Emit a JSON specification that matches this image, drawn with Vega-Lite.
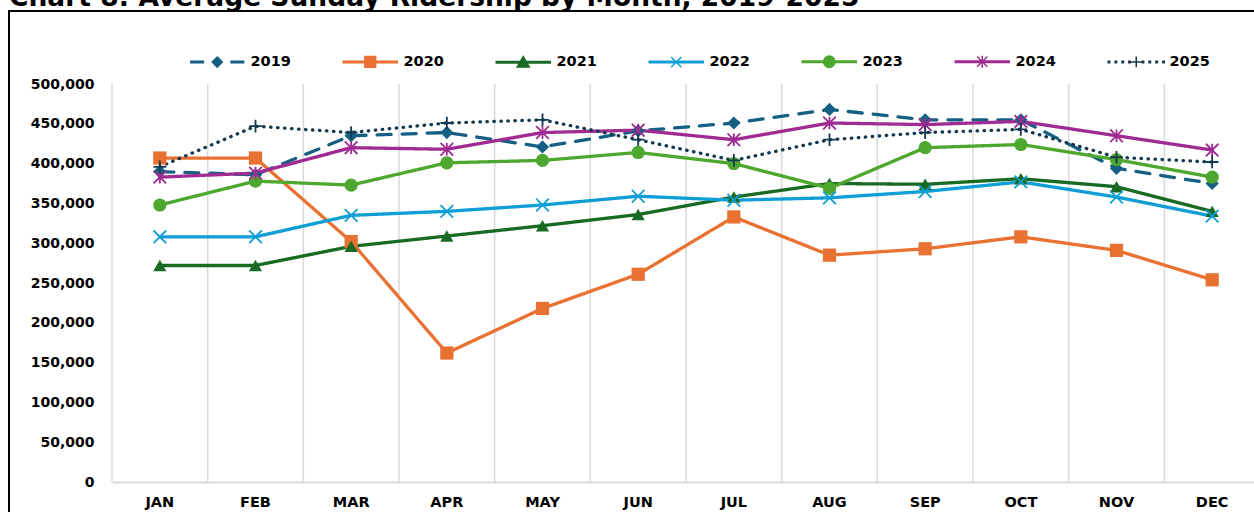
{
  "$schema": "https://vega.github.io/schema/vega-lite/v6.json",
  "autosize": {"type": "none"},
  "padding": {"left": 9, "top": 11, "right": -7, "bottom": -5},
  "width": 1252,
  "height": 506,
  "background": "white",
  "title": {
    "text": "Chart 8: Average Sunday Ridership by Month, 2019-2025",
    "anchor": "start",
    "frame": "group",
    "font": "DejaVu Sans",
    "fontSize": 26.5,
    "fontWeight": "bold",
    "color": "#000000",
    "baseline": "alphabetic",
    "offset": -21.5
  },
  "config": {
    "view": {"stroke": "#000000", "strokeWidth": 2},
    "axis": {"labelFont": "DejaVu Sans", "labelFontWeight": "bold", "labelColor": "#000000", "title": null}
  },
  "datasets": {
    "months": [
      {"month": "JAN"}, {"month": "FEB"}, {"month": "MAR"}, {"month": "APR"}, {"month": "MAY"}, {"month": "JUN"},
      {"month": "JUL"}, {"month": "AUG"}, {"month": "SEP"}, {"month": "OCT"}, {"month": "NOV"}, {"month": "DEC"}
    ],
    "ridership": [
      {"year": "2019", "month": "JAN", "riders": 390000},
      {"year": "2019", "month": "FEB", "riders": 386000},
      {"year": "2019", "month": "MAR", "riders": 435000},
      {"year": "2019", "month": "APR", "riders": 439000},
      {"year": "2019", "month": "MAY", "riders": 421000},
      {"year": "2019", "month": "JUN", "riders": 441000},
      {"year": "2019", "month": "JUL", "riders": 451000},
      {"year": "2019", "month": "AUG", "riders": 468000},
      {"year": "2019", "month": "SEP", "riders": 455000},
      {"year": "2019", "month": "OCT", "riders": 455000},
      {"year": "2019", "month": "NOV", "riders": 394000},
      {"year": "2019", "month": "DEC", "riders": 375000},
      {"year": "2020", "month": "JAN", "riders": 407000},
      {"year": "2020", "month": "FEB", "riders": 407000},
      {"year": "2020", "month": "MAR", "riders": 302000},
      {"year": "2020", "month": "APR", "riders": 162000},
      {"year": "2020", "month": "MAY", "riders": 218000},
      {"year": "2020", "month": "JUN", "riders": 261000},
      {"year": "2020", "month": "JUL", "riders": 333000},
      {"year": "2020", "month": "AUG", "riders": 285000},
      {"year": "2020", "month": "SEP", "riders": 293000},
      {"year": "2020", "month": "OCT", "riders": 308000},
      {"year": "2020", "month": "NOV", "riders": 291000},
      {"year": "2020", "month": "DEC", "riders": 254000},
      {"year": "2021", "month": "JAN", "riders": 272000},
      {"year": "2021", "month": "FEB", "riders": 272000},
      {"year": "2021", "month": "MAR", "riders": 296000},
      {"year": "2021", "month": "APR", "riders": 309000},
      {"year": "2021", "month": "MAY", "riders": 322000},
      {"year": "2021", "month": "JUN", "riders": 336000},
      {"year": "2021", "month": "JUL", "riders": 358000},
      {"year": "2021", "month": "AUG", "riders": 375000},
      {"year": "2021", "month": "SEP", "riders": 374000},
      {"year": "2021", "month": "OCT", "riders": 381000},
      {"year": "2021", "month": "NOV", "riders": 371000},
      {"year": "2021", "month": "DEC", "riders": 340000},
      {"year": "2022", "month": "JAN", "riders": 308000},
      {"year": "2022", "month": "FEB", "riders": 308000},
      {"year": "2022", "month": "MAR", "riders": 335000},
      {"year": "2022", "month": "APR", "riders": 340000},
      {"year": "2022", "month": "MAY", "riders": 348000},
      {"year": "2022", "month": "JUN", "riders": 359000},
      {"year": "2022", "month": "JUL", "riders": 354000},
      {"year": "2022", "month": "AUG", "riders": 357000},
      {"year": "2022", "month": "SEP", "riders": 365000},
      {"year": "2022", "month": "OCT", "riders": 377000},
      {"year": "2022", "month": "NOV", "riders": 358000},
      {"year": "2022", "month": "DEC", "riders": 334000},
      {"year": "2023", "month": "JAN", "riders": 348000},
      {"year": "2023", "month": "FEB", "riders": 378000},
      {"year": "2023", "month": "MAR", "riders": 373000},
      {"year": "2023", "month": "APR", "riders": 401000},
      {"year": "2023", "month": "MAY", "riders": 404000},
      {"year": "2023", "month": "JUN", "riders": 414000},
      {"year": "2023", "month": "JUL", "riders": 400000},
      {"year": "2023", "month": "AUG", "riders": 369000},
      {"year": "2023", "month": "SEP", "riders": 420000},
      {"year": "2023", "month": "OCT", "riders": 424000},
      {"year": "2023", "month": "NOV", "riders": 405000},
      {"year": "2023", "month": "DEC", "riders": 383000},
      {"year": "2024", "month": "JAN", "riders": 383000},
      {"year": "2024", "month": "FEB", "riders": 388000},
      {"year": "2024", "month": "MAR", "riders": 420000},
      {"year": "2024", "month": "APR", "riders": 418000},
      {"year": "2024", "month": "MAY", "riders": 439000},
      {"year": "2024", "month": "JUN", "riders": 442000},
      {"year": "2024", "month": "JUL", "riders": 430000},
      {"year": "2024", "month": "AUG", "riders": 451000},
      {"year": "2024", "month": "SEP", "riders": 449000},
      {"year": "2024", "month": "OCT", "riders": 453000},
      {"year": "2024", "month": "NOV", "riders": 435000},
      {"year": "2024", "month": "DEC", "riders": 417000},
      {"year": "2025", "month": "JAN", "riders": 396000},
      {"year": "2025", "month": "FEB", "riders": 447000},
      {"year": "2025", "month": "MAR", "riders": 439000},
      {"year": "2025", "month": "APR", "riders": 451000},
      {"year": "2025", "month": "MAY", "riders": 455000},
      {"year": "2025", "month": "JUN", "riders": 430000},
      {"year": "2025", "month": "JUL", "riders": 404000},
      {"year": "2025", "month": "AUG", "riders": 430000},
      {"year": "2025", "month": "SEP", "riders": 439000},
      {"year": "2025", "month": "OCT", "riders": 443000},
      {"year": "2025", "month": "NOV", "riders": 408000},
      {"year": "2025", "month": "DEC", "riders": 402000}
    ]
  },
  "layer": [
    {
      "data": {"name": "months"},
      "mark": {"type": "rule", "color": "#d9d9d9", "strokeWidth": 1.5},
      "encoding": {
        "x": {
          "field": "month", "type": "ordinal", "bandPosition": 0,
          "scale": {"type": "band", "domain": ["JAN","FEB","MAR","APR","MAY","JUN","JUL","AUG","SEP","OCT","NOV","DEC"], "range": [103, 1251], "paddingInner": 0, "paddingOuter": 0},
          "axis": {"orient": "bottom", "offset": -35, "ticks": false, "domain": true, "domainColor": "#d9d9d9", "domainWidth": 2, "grid": false, "labelFontSize": 14.5, "labelPadding": 13, "labelAngle": 0, "bandPosition": 0.5, "title": null}
        },
        "y": {
          "datum": 0, "type": "quantitative",
          "scale": {"domain": [0, 500000], "range": [471, 73], "nice": false, "zero": false},
          "axis": {"orient": "left", "offset": -103, "ticks": false, "domain": false, "grid": false, "labelFontSize": 14, "labelPadding": 18, "values": [0,50000,100000,150000,200000,250000,300000,350000,400000,450000,500000], "format": ",d", "title": null}
        },
        "y2": {"datum": 500000}
      }
    },
    {
      "data": {"name": "ridership"},
      "mark": {"type": "line", "strokeWidth": 3.3, "strokeCap": "round"},
      "encoding": {
        "x": {"field": "month", "type": "ordinal"},
        "y": {"field": "riders", "type": "quantitative"},
        "color": {
          "field": "year", "type": "nominal",
          "scale": {"domain": ["2019","2020","2021","2022","2023","2024","2025"], "range": ["#156082","#E97132","#196B24","#0F9ED5","#4EA72E","#A02B93","#14384F"]},
          "legend": {
            "orient": "none", "legendX": 201, "legendY": 43, "direction": "horizontal", "columns": 7, "title": null, "padding": 0,
            "labelFont": "DejaVu Sans", "labelFontSize": 14.5, "labelFontWeight": "bold", "labelColor": "#000000",
            "symbolSize": 144, "symbolStrokeWidth": 1.5, "symbolOpacity": 1, "labelOffset": 26, "columnPadding": 49,
            "symbolFillColor": {"expr": "scale('color', datum.value)"},
            "symbolStrokeColor": {"expr": "scale('color', datum.value)"},
            "symbolType": {"expr": "datum.value === '2019' ? 'M-4.4,-0.125H-2.3V0.125H-4.4ZM2.3,-0.125H4.4V0.125H2.3ZM-0.85,0L0,-0.85L0.85,0L0,0.85Z' : datum.value === '2020' ? 'M-4.5,-0.125H4.5V0.125H-4.5ZM-0.9,-0.9H0.9V0.9H-0.9Z' : datum.value === '2021' ? 'M-4.5,-0.125H4.5V0.125H-4.5ZM0,-0.95L1,0.8H-1Z' : datum.value === '2022' ? 'M-4.5,-0.125H4.5V0.125H-4.5ZM-0.85,-0.85L0.85,0.85M-0.85,0.85L0.85,-0.85' : datum.value === '2023' ? 'M-4.5,-0.125H4.5V0.125H-4.5ZM-0.95,0A0.95,0.95,0,1,0,0.95,0A0.95,0.95,0,1,0,-0.95,0Z' : datum.value === '2024' ? 'M-4.5,-0.125H4.5V0.125H-4.5ZM-0.85,-0.85L0.85,0.85M-0.85,0.85L0.85,-0.85M0,-1V1' : 'M-4.67,-0.12h0.24v0.24h-0.24ZM-3.52,-0.12h0.24v0.24h-0.24ZM-2.37,-0.12h0.24v0.24h-0.24ZM-1.24,-0.12h0.24v0.24h-0.24ZM1,-0.12h0.24v0.24h-0.24ZM2.13,-0.12h0.24v0.24h-0.24ZM3.28,-0.12h0.24v0.24h-0.24ZM4.43,-0.12h0.24v0.24h-0.24ZM-0.9,0H0.9M0,-0.9V0.9'"}
          }
        },
        "strokeDash": {
          "field": "year", "type": "nominal", "legend": null,
          "scale": {"domain": ["2025","2024","2023","2022","2021","2020","2019"], "range": [[0.5, 6.5], [1, 0], [1, 0], [1, 0], [1, 0], [1, 0], [14, 11]]}
        }
      }
    },
    {
      "data": {"name": "ridership"},
      "transform": [{"filter": {"field": "year", "oneOf": ["2019", "2020", "2021", "2023"]}}],
      "mark": {"type": "point", "filled": true, "opacity": 1, "size": 175},
      "encoding": {
        "x": {"field": "month", "type": "ordinal"},
        "y": {"field": "riders", "type": "quantitative"},
        "color": {"field": "year", "type": "nominal", "legend": null},
        "shape": {
          "field": "year", "type": "nominal", "legend": null,
          "scale": {"domain": ["2025","2024","2023","2022","2021","2020","2019"], "range": ["M-1,0L1,0M0,-1L0,1", "M-1,-1L1,1M-1,1L1,-1M0,-1L0,1", "circle", "M-1,-1L1,1M-1,1L1,-1", "triangle-up", "square", "diamond"]}
        }
      }
    },
    {
      "data": {"name": "ridership"},
      "transform": [{"filter": {"field": "year", "oneOf": ["2022", "2024", "2025"]}}],
      "mark": {"type": "point", "filled": false, "opacity": 1, "size": 160, "strokeWidth": 1.8},
      "encoding": {
        "x": {"field": "month", "type": "ordinal"},
        "y": {"field": "riders", "type": "quantitative"},
        "color": {"field": "year", "type": "nominal", "legend": null},
        "shape": {"field": "year", "type": "nominal", "legend": null}
      }
    }
  ]
}
